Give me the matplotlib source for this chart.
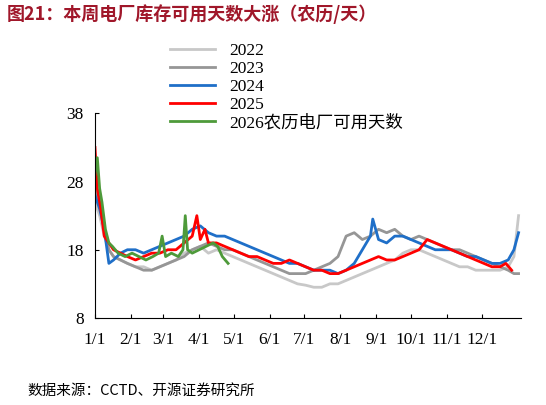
import matplotlib
matplotlib.use("Agg")
import matplotlib.pyplot as plt

plt.rcParams['font.family'] = ['Times New Roman', 'Liberation Serif', 'Noto Sans CJK SC', 'DejaVu Sans']

d22 = [0,4,8,12,16,22,28,35,42,49,56,63,70,77,84,91,98,105,112,119,126,133,140,147,154,161,168,175,182,189,196,203,210,217,224,231,238,245,252,259,266,273,280,287,294,301,308,315,322,329,336,343,350,357,362,366]
v22 = [25,23,20,18,17,16.5,16,15.5,15.5,15,15.5,16,16.5,17.5,18,18.5,17.5,18,17.5,17,16.5,16,15.5,15,14.5,14,13.5,13,12.8,12.5,12.5,13,13,13.5,14,14.5,15,15.5,16,16.5,17.5,18,18,17.5,17,16.5,16,15.5,15.5,15,15,15,15,15.5,17,23]
d23 = [0,4,8,12,16,22,28,35,42,49,56,63,70,77,84,91,98,105,112,119,126,133,140,147,154,161,168,175,182,189,196,203,210,217,224,231,238,245,252,259,266,273,280,287,294,301,308,315,322,329,336,343,350,357,362,366]
v23 = [27,25,21,18,17,16.5,16,15.5,15,15,15.5,16,16.5,17,18,18.5,19,18.5,18,18,17.5,17,16.5,16,15.5,15,14.5,14.5,14.5,15,15.5,16,17,20,20.5,19.5,20,21,20.5,21,20,19.5,20,19.5,19,18.5,18,18,17.5,17,16.5,16,15.5,15,14.5,14.5]
d24 = [0,4,8,12,16,22,28,35,42,49,56,63,70,77,84,91,98,105,112,119,126,133,140,147,154,161,168,175,182,189,196,203,210,217,224,231,238,240,245,252,259,266,273,280,287,294,301,308,315,322,329,336,343,350,357,362,366]
v24 = [26,24,21,16,16.5,17.5,18,18,17.5,18,18.5,19,19.5,20,21,21.5,20.5,20,20,19.5,19,18.5,18,17.5,17,16.5,16,16,15.5,15,15,15,14.5,15,16,18,20,22.5,19.5,19,20,20,19.5,19,18.5,18,18,18,17.5,17,17,16.5,16,16,16.5,18,20.5]
d25 = [0,2,5,8,12,16,22,28,35,42,49,56,63,70,77,84,88,91,95,98,105,112,119,126,133,140,147,154,161,168,175,182,189,196,203,210,217,224,231,238,245,252,259,266,273,280,287,294,301,308,315,322,329,336,343,350,355,360]
v25 = [33,27,24,20,19,18,17.5,17,16.5,17,17.5,17.5,18,18,19,20,23,19.5,21,19,19,18.5,18,17.5,17,17,16.5,16,16,16.5,16,15.5,15,15,14.5,14.5,15,15.5,16,16.5,17,16.5,16.5,17,17.5,18,19.5,19,18.5,18,17.5,17,16.5,16,15.5,15.5,16,15]
d26 = [0,2,4,6,9,12,15,20,26,32,38,44,50,55,58,61,66,72,76,78,80,84,90,96,102,106,110,115]
v26 = [29,31.5,27,25,21,19,18.5,17.5,17,17.5,17,16.5,17,17.5,20,17,17.5,17,18,23,18,17.5,18,18.5,19,18.5,17,16]

fig = plt.figure(figsize=(5.46, 4.05), dpi=100)
ax = fig.add_axes([0.174, 0.215, 0.78, 0.505])
ax.plot(d22, v22, color='#c8c8c8', lw=2, label='2022')
ax.plot(d23, v23, color='#969696', lw=2, label='2023')
ax.plot(d24, v24, color='#1f6fc8', lw=2, label='2024')
ax.plot(d25, v25, color='#ff0000', lw=2, label='2025')
ax.plot(d26, v26, color='#4e9a3a', lw=2, label='2026农历电厂可用天数')

ax.set_ylim(8, 38)
ax.set_yticks([8, 18, 28, 38])
ax.set_xlim(0, 368)
ticks = [0,31,59,90,120,151,181,212,243,273,304,334]
ax.set_xticks(ticks)
ax.set_xticklabels([f'{m}/1' for m in range(1, 13)])
ax.tick_params(labelsize=12.5, direction='in', length=3)
ax.tick_params(axis='x', pad=10)
ax.tick_params(axis='y', pad=8)
for s in ['top', 'right']:
    ax.spines[s].set_visible(False)
ax.legend(loc='lower left', bbox_to_anchor=(0.16, 0.88), frameon=False, fontsize=12.5,
          handlelength=2.6, labelspacing=0.1, borderaxespad=0)

fig.text(0.012, 0.95, '图21：本周电厂库存可用天数大涨（农历/天）', color='#a0172a',
         fontsize=13, fontweight='bold', family=['Noto Sans CJK SC'])
fig.text(0.05, 0.025, '数据来源：CCTD、开源证券研究所', fontsize=10.5, family=['Noto Sans CJK SC'])
fig.savefig('out.png', dpi=100)
